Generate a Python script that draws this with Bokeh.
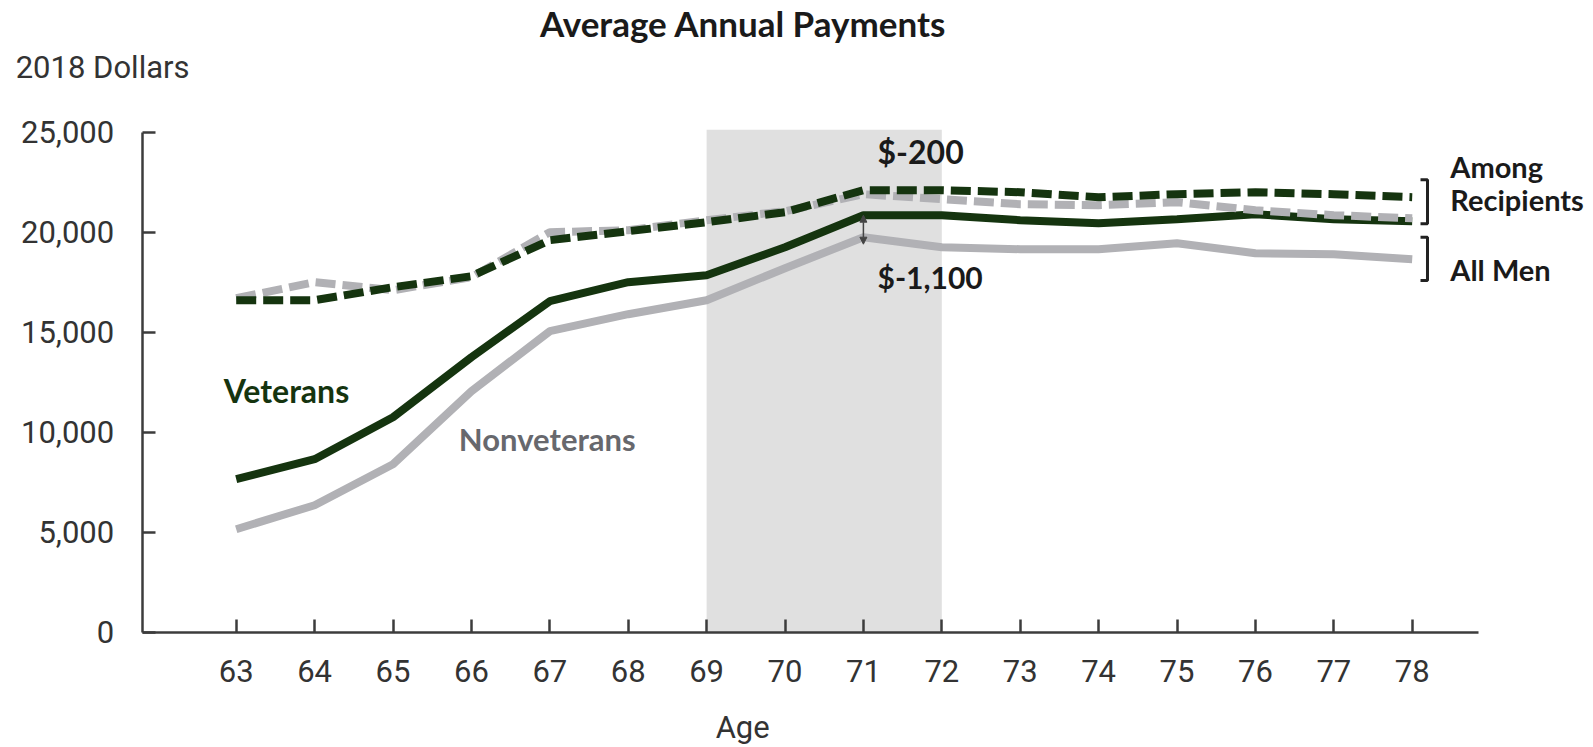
from bokeh.plotting import figure
from bokeh.models import Label, Arrow, NormalHead, Range1d, FixedTicker, NumeralTickFormatter
from bokeh.embed import file_html
from bokeh.resources import INLINE

ages = list(range(63, 79))
vet_all = [7650, 8650, 10750, 13750, 16550, 17500, 17850, 19250, 20850, 20850, 20600, 20450, 20650, 20900, 20650, 20550]
nonvet_all = [5150, 6350, 8400, 12050, 15050, 15900, 16600, 18200, 19750, 19250, 19150, 19150, 19450, 18950, 18900, 18650]
vet_recip = [16600, 16600, 17250, 17800, 19600, 20050, 20500, 21000, 22100, 22100, 22000, 21750, 21900, 22000, 21900, 21750]
nonvet_recip = [16700, 17500, 17100, 17750, 20000, 20100, 20600, 21050, 21900, 21650, 21400, 21350, 21500, 21100, 20850, 20700]
y_ticks = [0, 5000, 10000, 15000, 20000, 25000]
shade_start, shade_end = 69, 72
highlight_age = 71

DARK = "#15340f"
GRAY = "#b1b1b5"
AXIS = "#3c3c3c"
TXT = "#1a1a1a"
BOLD_FONT = "Lato"
REG_FONT = "Roboto"

X0, X1 = 61.801, 78.851     # axis extent
Y1 = 25000

p = figure(width=1588, height=745, output_backend="svg", toolbar_location=None, title=None,
           x_range=Range1d(59.9936, 80.2487), y_range=Range1d(-5665, 31585),
           min_border=0, min_border_left=0, min_border_right=0, min_border_top=0, min_border_bottom=0)
p.outline_line_color = None
p.grid.visible = False
p.background_fill_color = "white"
p.border_fill_color = "white"

# shaded period
p.quad(left=[shade_start], right=[shade_end], bottom=[0], top=[25120], fill_color="#e0e0e0", line_color=None)

p.line(ages, nonvet_all, line_color=GRAY, line_width=8)
p.line(ages, vet_all, line_color=DARK, line_width=8)
p.line(ages, nonvet_recip, line_color=GRAY, line_width=8, line_dash="20 7")
p.line(ages, vet_recip, line_color=DARK, line_width=8, line_dash="20 7")

# axes (placed inside the frame at fixed data locations)
for ax in (p.xaxis[0], p.yaxis[0]):
    ax.axis_line_color = AXIS
    ax.axis_line_width = 2.5
    ax.major_tick_line_color = AXIS
    ax.major_tick_line_width = 2.5
    ax.major_tick_in = 13
    ax.major_tick_out = 0
    ax.minor_tick_line_color = None
    ax.major_label_text_font = REG_FONT
    ax.major_label_text_font_size = "31px"
    ax.major_label_text_color = "#333333"

p.xaxis.ticker = FixedTicker(ticks=ages)
p.xaxis.bounds = (X0, X1)
p.xaxis.fixed_location = 0
p.xaxis.major_label_standoff = 28
p.yaxis.ticker = FixedTicker(ticks=y_ticks)
p.yaxis.formatter = NumeralTickFormatter(format="0,0")
p.yaxis.bounds = (0, Y1)
p.yaxis.fixed_location = X0
p.yaxis.major_label_standoff = 28

# difference arrow
i = ages.index(highlight_age)
p.add_layout(Arrow(start=NormalHead(size=7, fill_color="#444444", line_color="#444444"),
                   end=NormalHead(size=7, fill_color="#444444", line_color="#444444"),
                   x_start=highlight_age, y_start=vet_all[i],
                   x_end=highlight_age, y_end=nonvet_all[i] - 350,
                   line_color="#444444", line_width=1.5))

# brackets
for y0, y1 in [(22620, 20420), (19750, 17585)]:
    p.line([78.106, 78.195, 78.195, 78.106], [y0, y0, y1, y1], line_color="#222222", line_width=3)

def lab(x, y, text, size="32px", color=TXT, style="bold", font=BOLD_FONT, align="left"):
    p.add_layout(Label(x=x, y=y, text=text, text_font=font, text_font_size=size,
                       text_font_style=style, text_color=color, text_align=align,
                       text_baseline="middle"))

lab(69.467, 30465, "Average Annual Payments", size="35px", align="center")
lab(60.1875, 28235, "2018 Dollars", size="31px", style="normal", font=REG_FONT, color="#333333")
lab(69.46, -4785, "Age", size="31px", style="normal", font=REG_FONT, color="#333333", align="center")
lab(62.84, 12085, "Veterans", color=DARK)
lab(65.84, 9640, "Nonveterans", size="31px", color="#67686d")
lab(71.18, 24015, "$-200")
lab(71.18, 17770, "$-1,100", size="30px")
lab(78.486, 23305, "Among", size="29px")
lab(78.486, 21630, "Recipients", size="29px")
lab(78.486, 18125, "All Men", size="29px")

open("out.html", "w").write(file_html(p, INLINE))
